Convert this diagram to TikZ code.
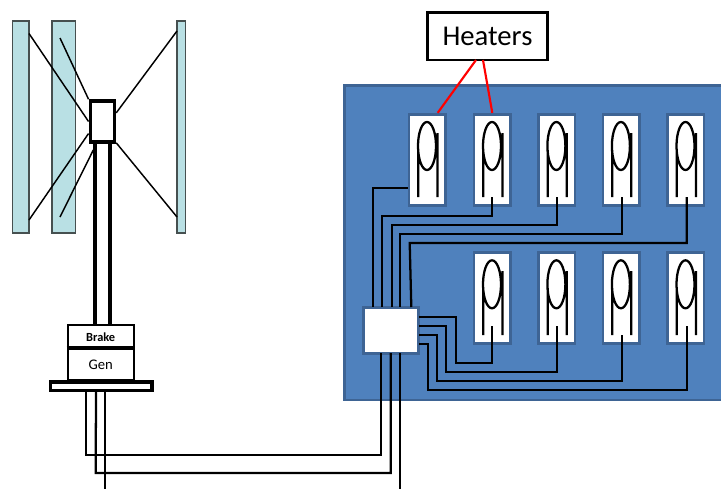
\documentclass[tikz,border=0pt]{standalone}
\usepackage{fontspec}
\setmainfont{Carlito}
\usepackage{amsmath}
\usetikzlibrary{shapes}

\begin{document}
\begin{tikzpicture}[x=0.75pt,y=0.75pt,yscale=-1,xscale=1,
  blade/.style={draw={rgb, 255:red, 70; green, 80; blue, 80 },fill={rgb, 255:red, 185; green, 224; blue, 228 },line width=1pt,inner sep=0pt,minimum height=159pt},
  spoke/.style={line width=1.1pt},
  mast/.style={line width=3pt},
  housing/.style={draw,fill=white,line width=1.5pt,inner sep=0pt,minimum width=49.5pt},
  panel/.style={draw={rgb, 255:red, 62; green, 100; blue, 148 },fill={rgb, 255:red, 79; green, 129; blue, 189 },line width=2pt,inner sep=0pt},
  heater/.style={draw={rgb, 255:red, 62; green, 100; blue, 148 },fill=white,line width=2pt,inner sep=0pt,minimum width=27.4pt,minimum height=68.3pt},
  coil/.style={line width=1.7pt},
  wire/.style={line width=1.7pt},
  pointer/.style={color={rgb, 255:red, 255; green, 0; blue, 0 },line width=1.6pt}
]
\useasboundingbox (0,0) rectangle (721,489);

%Shape: Rectangle
\draw (20.7,127) node (bladeA) [blade,minimum width=12.4pt] {};
\draw (63.8,127) node (bladeB) [blade,minimum width=17.8pt] {};
\draw (181.4,127) node (bladeC) [blade,minimum width=6.5pt] {};

%Shape: Rectangle
\draw (102.4,121.5) node (hub) [draw,line width=2.6pt,inner sep=0pt,minimum width=18.2pt,minimum height=30.8pt] {};

%Straight Lines
\coordinate (spokeA1) at (29,33.5);
\coordinate (spokeA2) at (29,220);
\coordinate (spokeB1) at (60,38);
\coordinate (spokeB2) at (60,217);
\coordinate (spokeB3) at (93.3,150);
\coordinate (spokeC1) at (177,31);
\coordinate (spokeC2) at (177,217);
\draw [spoke] (spokeA1) -- (hub.west) ;
\draw [spoke] (spokeA2) -- (hub.221) ;
\draw [spoke] (spokeB1) -- (hub.north west) ;
\draw [spoke] (spokeB2) -- (spokeB3) ;
\draw [spoke] (spokeC1) -- (hub.32) ;
\draw [spoke] (spokeC2) -- (hub.-57) ;

%Shape: Rectangle
\draw (100.7,336.8) node (brake) [housing,minimum height=17.8pt] {\fontsize{9.3pt}{10pt}\selectfont\bfseries Brake};
\draw (100.7,364.3) node (gen) [housing,minimum height=23.5pt] {\raisebox{-1.5pt}{\fontsize{11pt}{12pt}\selectfont Gen}};
\draw (101.2,386.2) node (base) [draw,fill=white,line width=2.7pt,inner sep=0pt,minimum width=76.1pt,minimum height=6.4pt] {};

%Straight Lines
\coordinate (mastA1) at (95,143);
\coordinate (mastA2) at (95,325);
\coordinate (mastB1) at (110.3,143);
\coordinate (mastB2) at (110.3,325);
\draw [mast] (mastA1) -- (mastA2) ;
\draw [mast] (mastB1) -- (mastB2) ;
\draw [line width=3pt] (gen.north west) -- (gen.north east) ;

%Shape: Rectangle
\draw (534,242.5) node (board) [panel,minimum width=284.5pt,minimum height=236pt] {};
\draw (391.1,330.3) node (ctrl) [panel,fill=white,minimum width=41.4pt,minimum height=34.5pt] {};

%Shape: Rectangle
\draw (427.3,159.7) node (heatA) [heater] {};
\draw (492.3,159.7) node (heatB) [heater] {};
\draw (556.7,159.7) node (heatC) [heater] {};
\draw (621.2,159.7) node (heatD) [heater] {};
\draw (685.8,159.7) node (heatE) [heater] {};
\draw (492.3,298) node (heatF) [heater] {};
\draw (556.7,298) node (heatG) [heater] {};
\draw (621.2,298) node (heatH) [heater] {};
\draw (685.8,298) node (heatI) [heater] {};

%Shape: Ellipse
\draw [coil] (427,146) ellipse (9 and 24) (418.3,150) -- (418.3,197) (437.4,133) -- (437.4,197) ;
\draw [coil] (492,146) ellipse (9 and 24) (483.3,150) -- (483.3,197) (502.4,133) -- (502.4,197) ;
\draw [coil] (556.4,146) ellipse (9 and 24) (547.7,150) -- (547.7,197) (566.8,133) -- (566.8,197) ;
\draw [coil] (620.9,146) ellipse (9 and 24) (612.2,150) -- (612.2,197) (631.3,133) -- (631.3,197) ;
\draw [coil] (685.5,146) ellipse (9 and 24) (676.8,150) -- (676.8,197) (695.9,133) -- (695.9,197) ;
\draw [coil] (492,284.3) ellipse (9 and 24) (483.3,288) -- (483.3,335) (502.4,271) -- (502.4,335) ;
\draw [coil] (556.4,284.3) ellipse (9 and 24) (547.7,288) -- (547.7,335) (566.8,271) -- (566.8,335) ;
\draw [coil] (620.9,284.3) ellipse (9 and 24) (612.2,288) -- (612.2,335) (631.3,271) -- (631.3,335) ;
\draw [coil] (685.5,284.3) ellipse (9 and 24) (676.8,288) -- (676.8,335) (695.9,271) -- (695.9,335) ;

%Straight Lines
\coordinate (pinB) at (492.3,197);
\coordinate (pinC) at (557,197);
\coordinate (pinD) at (621.7,197);
\coordinate (pinE) at (686.7,197);
\coordinate (pinF) at (492.3,326);
\coordinate (pinG) at (557,326);
\coordinate (pinH) at (621.7,335);
\coordinate (pinI) at (686.7,326);
\coordinate (tapA) at (372.7,307);
\coordinate (tapB) at (382.3,307);
\coordinate (tapC) at (391.7,307);
\coordinate (tapD) at (400.3,307);
\coordinate (tapE) at (411.3,307);
\coordinate (tapF) at (419,317);
\coordinate (tapG) at (419,325.7);
\coordinate (tapH) at (419,335);
\coordinate (tapI) at (419,344.3);
\draw [wire] (heatA.west |- 0,187.7) -- (372.7,187.7) -- (tapA) ;
\draw [wire] (pinB) -- (492.3,216) -- (382.3,216) -- (tapB) ;
\draw [wire] (pinC) -- (557,225) -- (391.7,225) -- (tapC) ;
\draw [wire] (pinD) -- (621.7,234.3) -- (400.3,234.3) -- (tapD) ;
\draw [wire] (pinE) -- (686.7,243) -- (409.7,243) -- (tapE) ;
\draw [wire] (pinF) -- (492.3,363) -- (455.7,363) -- (455.7,317) -- (tapF) ;
\draw [wire] (pinG) -- (557,372) -- (446,372) -- (446,325.7) -- (tapG) ;
\draw [wire] (pinH) -- (621.7,381) -- (437.3,381) -- (437.3,335) -- (tapH) ;
\draw [wire] (pinI) -- (686.7,390.3) -- (428.3,390.3) -- (428.3,344.3) -- (tapI) ;

%Straight Lines
\coordinate (leadA) at (86,391);
\coordinate (leadB) at (96,391);
\coordinate (leadC) at (105,391);
\coordinate (leadD) at (105,489);
\coordinate (feedA) at (381.3,353);
\coordinate (feedB) at (390.7,353);
\coordinate (feedC) at (400.3,353);
\coordinate (feedD) at (400.3,489);
\draw [wire] (leadA) -- (86,455.3) -- (381.3,455.3) -- (feedA) ;
\draw [wire] (leadB) -- (95.7,473) -- (390.7,473) -- (feedB) ;
\draw [wire] (leadC) -- (leadD) ;
\draw [wire] (feedC) -- (feedD) ;

% Text Node
\draw (487.5,36.2) node (label) [draw,fill=white,line width=2pt,inner sep=0pt,minimum width=90.3pt,minimum height=35.7pt] {\raisebox{-0.6pt}{\fontsize{21.5pt}{24pt}\selectfont Heaters}};

%Straight Lines
\draw [pointer] (476,60) -- (heatA.north -| 437.7,0) ;
\draw [pointer] (483,60) -- (heatB.north) ;

\end{tikzpicture}
\end{document}
